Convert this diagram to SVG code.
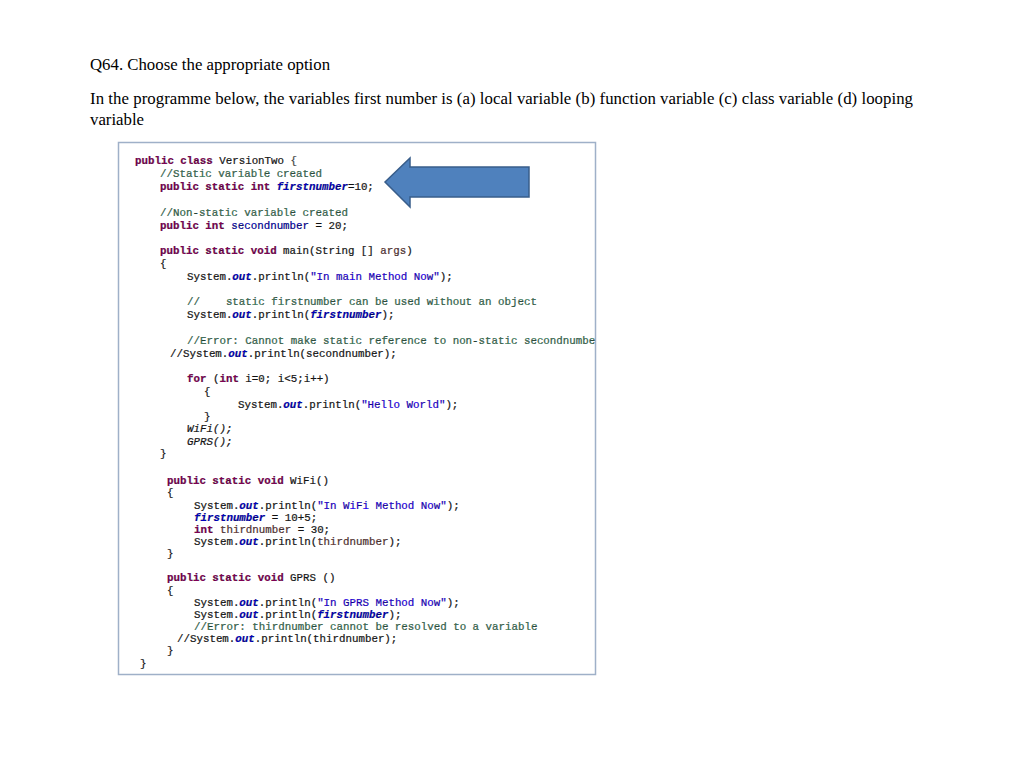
<svg xmlns="http://www.w3.org/2000/svg" width="1024" height="766" viewBox="0 0 1024 766">
<style>
.q{font-family:"Liberation Serif",serif;font-size:16.8px;fill:#000}
.c{font-family:"Liberation Mono","DejaVu Sans Mono",monospace;font-size:10.8px;fill:#222;white-space:pre;stroke:currentColor;stroke-width:0.2}
.k{fill:#7f0055;font-weight:bold}
.m{fill:#3f7f5f}
.s{fill:#2a00ff}
.f{fill:#0000c0;font-style:italic;font-weight:bold}
.i{font-style:italic}
.v{fill:#6a3e3e}
</style>
<rect width="1024" height="766" fill="#fff"/>
<text class="q" x="90" y="70">Q64. Choose the appropriate option</text>
<text class="q" x="90" y="104" textLength="823">In the programme below, the variables first number is (a) local variable (b) function variable (c) class variable (d) looping</text>
<text class="q" x="90" y="125">variable</text>
<g id="code">
<rect x="118.5" y="142.5" width="477" height="532" fill="#fff" stroke="#9fb0c8" stroke-width="1.5"/>
<text class="c" x="135" y="164"><tspan class="k">public class</tspan> VersionTwo <tspan fill="#555">{</tspan></text>
<text class="c m" x="160" y="177">//Static variable created</text>
<text class="c" x="160" y="190"><tspan class="k">public static int</tspan> <tspan class="f">firstnumber</tspan>=10;</text>
<text class="c m" x="160" y="216">//Non-static variable created</text>
<text class="c" x="160" y="229"><tspan class="k">public int</tspan> <tspan fill="#0000c0">secondnumber</tspan> = 20;</text>
<text class="c" x="160" y="254"><tspan class="k">public static void</tspan> main(String [] <tspan class="v">args</tspan>)</text>
<text class="c" x="160" y="267">{</text>
<text class="c" x="187" y="280">System.<tspan class="f">out</tspan>.println(<tspan class="s">"In main Method Now"</tspan>);</text>
<text class="c m" x="187" y="305">//    static firstnumber can be used without an object</text>
<text class="c" x="187" y="318">System.<tspan class="f">out</tspan>.println(<tspan class="f">firstnumber</tspan>);</text>
<text class="c m" x="187" y="344">//Error: Cannot make static reference to non-static secondnumbe</text>
<text class="c" x="170" y="357">//System.<tspan class="f">out</tspan>.println(secondnumber);</text>
<text class="c" x="187" y="382"><tspan class="k">for</tspan> (<tspan class="k">int</tspan> i=0; i&lt;5;i++)</text>
<text class="c" x="204" y="395">{</text>
<text class="c" x="238" y="408">System.<tspan class="f">out</tspan>.println(<tspan class="s">"Hello World"</tspan>);</text>
<text class="c" x="204" y="420">}</text>
<text class="c i" x="187" y="432">WiFi();</text>
<text class="c i" x="187" y="445">GPRS();</text>
<text class="c" x="160" y="457">}</text>
<text class="c" x="167" y="484"><tspan class="k">public static void</tspan> WiFi()</text>
<text class="c" x="167" y="496">{</text>
<text class="c" x="194" y="509">System.<tspan class="f">out</tspan>.println(<tspan class="s">"In WiFi Method Now"</tspan>);</text>
<text class="c" x="194" y="521"><tspan class="f">firstnumber</tspan> = 10+5;</text>
<text class="c" x="194" y="533"><tspan class="k">int</tspan> <tspan class="v">thirdnumber</tspan> = 30;</text>
<text class="c" x="194" y="545">System.<tspan class="f">out</tspan>.println(<tspan class="v">thirdnumber</tspan>);</text>
<text class="c" x="167" y="557">}</text>
<text class="c" x="167" y="581"><tspan class="k">public static void</tspan> GPRS ()</text>
<text class="c" x="167" y="594">{</text>
<text class="c" x="194" y="606">System.<tspan class="f">out</tspan>.println(<tspan class="s">"In GPRS Method Now"</tspan>);</text>
<text class="c" x="194" y="618">System.<tspan class="f">out</tspan>.println(<tspan class="f">firstnumber</tspan>);</text>
<text class="c m" x="194" y="630">//Error: thirdnumber cannot be resolved to a variable</text>
<text class="c" x="177" y="642">//System.<tspan class="f">out</tspan>.println(thirdnumber);</text>
<text class="c" x="167" y="654">}</text>
<text class="c" x="140" y="667">}</text>
</g>
<g id="arrow">
<polygon points="385,182 410,158 410,167 529,167 529,197 410,197 410,207" fill="#4f81bd" stroke="#385d8a" stroke-width="1.5"/>
</g>
</svg>
